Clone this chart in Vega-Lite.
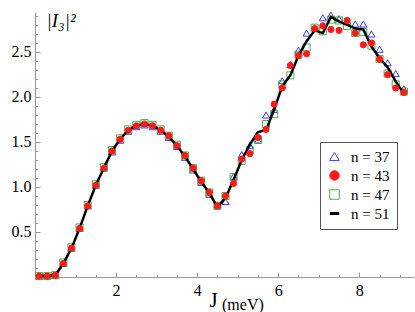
{
"$schema": "https://vega.github.io/schema/vega-lite/v6.json",
"width": 379, "height": 265,
"autosize": {"type": "none"},
"padding": {"left": 35, "top": 12, "right": 1, "bottom": 35},
"title": {"text": "(meV)", "orient": "bottom", "anchor": "start", "frame": "group", "font": "Liberation Serif", "fontSize": 16, "fontWeight": "normal", "baseline": "alphabetic", "dx": 187, "offset": 0, "color": "black"},
"config": {
  "view": {"stroke": null},
  "font": "Liberation Serif",
  "legend": {"strokeColor": "#555555", "fillColor": "white", "padding": 7, "labelFont": "Liberation Serif", "labelFontSize": 15, "labelColor": "black", "symbolSize": 90, "rowPadding": 3, "labelOffset": 9}
},
"datasets": {"d": [
{"J":0.1,"n":"n = 37","v":0.01},{"J":0.1,"n":"n = 43","v":0.01},{"J":0.1,"n":"n = 47","v":0.01},{"J":0.1,"n":"n = 51","v":0.01},
{"J":0.3,"n":"n = 37","v":0.01},{"J":0.3,"n":"n = 43","v":0.01},{"J":0.3,"n":"n = 47","v":0.01},{"J":0.3,"n":"n = 51","v":0.01},
{"J":0.5,"n":"n = 37","v":0.02},{"J":0.5,"n":"n = 43","v":0.02},{"J":0.5,"n":"n = 47","v":0.02},{"J":0.5,"n":"n = 51","v":0.02},
{"J":0.7,"n":"n = 37","v":0.15},{"J":0.7,"n":"n = 43","v":0.15},{"J":0.7,"n":"n = 47","v":0.16},{"J":0.7,"n":"n = 51","v":0.15},
{"J":0.9,"n":"n = 37","v":0.32},{"J":0.9,"n":"n = 43","v":0.32},{"J":0.9,"n":"n = 47","v":0.33},{"J":0.9,"n":"n = 51","v":0.32},
{"J":1.1,"n":"n = 37","v":0.54},{"J":1.1,"n":"n = 43","v":0.54},{"J":1.1,"n":"n = 47","v":0.55},{"J":1.1,"n":"n = 51","v":0.54},
{"J":1.3,"n":"n = 37","v":0.79},{"J":1.3,"n":"n = 43","v":0.79},{"J":1.3,"n":"n = 47","v":0.80},{"J":1.3,"n":"n = 51","v":0.79},
{"J":1.5,"n":"n = 37","v":1.02},{"J":1.5,"n":"n = 43","v":1.02},{"J":1.5,"n":"n = 47","v":1.03},{"J":1.5,"n":"n = 51","v":1.02},
{"J":1.7,"n":"n = 37","v":1.21},{"J":1.7,"n":"n = 43","v":1.21},{"J":1.7,"n":"n = 47","v":1.22},{"J":1.7,"n":"n = 51","v":1.21},
{"J":1.9,"n":"n = 37","v":1.39},{"J":1.9,"n":"n = 43","v":1.40},{"J":1.9,"n":"n = 47","v":1.41},{"J":1.9,"n":"n = 51","v":1.40},
{"J":2.1,"n":"n = 37","v":1.52},{"J":2.1,"n":"n = 43","v":1.53},{"J":2.1,"n":"n = 47","v":1.54},{"J":2.1,"n":"n = 51","v":1.53},
{"J":2.3,"n":"n = 37","v":1.62},{"J":2.3,"n":"n = 43","v":1.63},{"J":2.3,"n":"n = 47","v":1.64},{"J":2.3,"n":"n = 51","v":1.63},
{"J":2.5,"n":"n = 37","v":1.67},{"J":2.5,"n":"n = 43","v":1.68},{"J":2.5,"n":"n = 47","v":1.69},{"J":2.5,"n":"n = 51","v":1.68},
{"J":2.7,"n":"n = 37","v":1.69},{"J":2.7,"n":"n = 43","v":1.70},{"J":2.7,"n":"n = 47","v":1.71},{"J":2.7,"n":"n = 51","v":1.70},
{"J":2.9,"n":"n = 37","v":1.67},{"J":2.9,"n":"n = 43","v":1.68},{"J":2.9,"n":"n = 47","v":1.69},{"J":2.9,"n":"n = 51","v":1.68},
{"J":3.1,"n":"n = 37","v":1.62},{"J":3.1,"n":"n = 43","v":1.63},{"J":3.1,"n":"n = 47","v":1.64},{"J":3.1,"n":"n = 51","v":1.63},
{"J":3.3,"n":"n = 37","v":1.55},{"J":3.3,"n":"n = 43","v":1.57},{"J":3.3,"n":"n = 47","v":1.57},{"J":3.3,"n":"n = 51","v":1.56},
{"J":3.5,"n":"n = 37","v":1.45},{"J":3.5,"n":"n = 43","v":1.46},{"J":3.5,"n":"n = 47","v":1.47},{"J":3.5,"n":"n = 51","v":1.46},
{"J":3.7,"n":"n = 37","v":1.33},{"J":3.7,"n":"n = 43","v":1.35},{"J":3.7,"n":"n = 47","v":1.35},{"J":3.7,"n":"n = 51","v":1.34},
{"J":3.9,"n":"n = 37","v":1.19},{"J":3.9,"n":"n = 43","v":1.21},{"J":3.9,"n":"n = 47","v":1.21},{"J":3.9,"n":"n = 51","v":1.20},
{"J":4.1,"n":"n = 37","v":1.05},{"J":4.1,"n":"n = 43","v":1.07},{"J":4.1,"n":"n = 47","v":1.07},{"J":4.1,"n":"n = 51","v":1.06},
{"J":4.3,"n":"n = 37","v":0.92},{"J":4.3,"n":"n = 43","v":0.94},{"J":4.3,"n":"n = 47","v":0.94},{"J":4.3,"n":"n = 51","v":0.93},
{"J":4.5,"n":"n = 37","v":0.80},{"J":4.5,"n":"n = 43","v":0.79},{"J":4.5,"n":"n = 47","v":0.79},{"J":4.5,"n":"n = 51","v":0.78},
{"J":4.7,"n":"n = 37","v":0.84},{"J":4.7,"n":"n = 43","v":0.90},{"J":4.7,"n":"n = 47","v":0.90},{"J":4.7,"n":"n = 51","v":0.88},
{"J":4.9,"n":"n = 37","v":1.12},{"J":4.9,"n":"n = 43","v":1.04},{"J":4.9,"n":"n = 47","v":1.11},{"J":4.9,"n":"n = 51","v":1.08},
{"J":5.1,"n":"n = 37","v":1.36},{"J":5.1,"n":"n = 43","v":1.31},{"J":5.1,"n":"n = 47","v":1.29},{"J":5.1,"n":"n = 51","v":1.30},
{"J":5.3,"n":"n = 37","v":1.46},{"J":5.3,"n":"n = 43","v":1.37},{"J":5.3,"n":"n = 47","v":1.41},{"J":5.3,"n":"n = 51","v":1.47},
{"J":5.5,"n":"n = 37","v":1.52},{"J":5.5,"n":"n = 43","v":1.55},{"J":5.5,"n":"n = 47","v":1.53},{"J":5.5,"n":"n = 51","v":1.61},
{"J":5.7,"n":"n = 37","v":1.80},{"J":5.7,"n":"n = 43","v":1.64},{"J":5.7,"n":"n = 47","v":1.70},{"J":5.7,"n":"n = 51","v":1.63},
{"J":5.9,"n":"n = 37","v":1.86},{"J":5.9,"n":"n = 43","v":1.92},{"J":5.9,"n":"n = 47","v":1.81},{"J":5.9,"n":"n = 51","v":1.86},
{"J":6.1,"n":"n = 37","v":2.18},{"J":6.1,"n":"n = 43","v":2.10},{"J":6.1,"n":"n = 47","v":2.14},{"J":6.1,"n":"n = 51","v":2.12},
{"J":6.3,"n":"n = 37","v":2.36},{"J":6.3,"n":"n = 43","v":2.35},{"J":6.3,"n":"n = 47","v":2.24},{"J":6.3,"n":"n = 51","v":2.24},
{"J":6.5,"n":"n = 37","v":2.52},{"J":6.5,"n":"n = 43","v":2.46},{"J":6.5,"n":"n = 47","v":2.47},{"J":6.5,"n":"n = 51","v":2.46},
{"J":6.7,"n":"n = 37","v":2.71},{"J":6.7,"n":"n = 43","v":2.48},{"J":6.7,"n":"n = 47","v":2.55},{"J":6.7,"n":"n = 51","v":2.62},
{"J":6.9,"n":"n = 37","v":2.77},{"J":6.9,"n":"n = 43","v":2.76},{"J":6.9,"n":"n = 47","v":2.77},{"J":6.9,"n":"n = 51","v":2.74},
{"J":7.1,"n":"n = 37","v":2.88},{"J":7.1,"n":"n = 43","v":2.79},{"J":7.1,"n":"n = 47","v":2.73},{"J":7.1,"n":"n = 51","v":2.71},
{"J":7.3,"n":"n = 37","v":2.91},{"J":7.3,"n":"n = 43","v":2.75},{"J":7.3,"n":"n = 47","v":2.86},{"J":7.3,"n":"n = 51","v":2.89},
{"J":7.5,"n":"n = 37","v":2.87},{"J":7.5,"n":"n = 43","v":2.74},{"J":7.5,"n":"n = 47","v":2.85},{"J":7.5,"n":"n = 51","v":2.84},
{"J":7.7,"n":"n = 37","v":2.84},{"J":7.7,"n":"n = 43","v":2.85},{"J":7.7,"n":"n = 47","v":2.79},{"J":7.7,"n":"n = 51","v":2.80},
{"J":7.9,"n":"n = 37","v":2.81},{"J":7.9,"n":"n = 43","v":2.71},{"J":7.9,"n":"n = 47","v":2.71},{"J":7.9,"n":"n = 51","v":2.76},
{"J":8.1,"n":"n = 37","v":2.81},{"J":8.1,"n":"n = 43","v":2.58},{"J":8.1,"n":"n = 47","v":2.72},{"J":8.1,"n":"n = 51","v":2.75},
{"J":8.3,"n":"n = 37","v":2.70},{"J":8.3,"n":"n = 43","v":2.60},{"J":8.3,"n":"n = 47","v":2.57},{"J":8.3,"n":"n = 51","v":2.56},
{"J":8.5,"n":"n = 37","v":2.53},{"J":8.5,"n":"n = 43","v":2.42},{"J":8.5,"n":"n = 47","v":2.42},{"J":8.5,"n":"n = 51","v":2.43},
{"J":8.7,"n":"n = 37","v":2.38},{"J":8.7,"n":"n = 43","v":2.25},{"J":8.7,"n":"n = 47","v":2.26},{"J":8.7,"n":"n = 51","v":2.33},
{"J":8.9,"n":"n = 37","v":2.26},{"J":8.9,"n":"n = 43","v":2.10},{"J":8.9,"n":"n = 47","v":2.14},{"J":8.9,"n":"n = 51","v":2.17},
{"J":9.1,"n":"n = 37","v":2.09},{"J":9.1,"n":"n = 43","v":2.05},{"J":9.1,"n":"n = 47","v":2.06},{"J":9.1,"n":"n = 51","v":2.04}
]},
"data": {"name": "d"},
"encoding": {
  "x": {"field": "J", "type": "quantitative",
    "scale": {"domain": [0, 9.35], "nice": false, "zero": false},
    "axis": {"values": [0.5,1,1.5,2,2.5,3,3.5,4,4.5,5,5.5,6,6.5,7,7.5,8,8.5,9],
      "labelExpr": "datum.value % 2 == 0 ? format(datum.value, 'd') : ''",
      "tickSize": {"condition": {"test": "datum.value % 2 == 0", "value": -5}, "value": -2.5},
      "labelPadding": 10, "labelFlush": false, "labelOverlap": false,
      "labelFont": "Liberation Serif", "labelFontSize": 16, "labelColor": "black",
      "domainColor": "#999999", "tickColor": "#999999", "grid": false,
      "title": "J", "titleFont": "Liberation Serif", "titleFontSize": 21, "titleFontWeight": "normal", "titleColor": "black",
      "titleX": 178, "titleY": 29, "titleAlign": "center", "titleBaseline": "alphabetic"}},
  "y": {"field": "v", "type": "quantitative",
    "scale": {"domain": [0, 2.944], "nice": false, "zero": false},
    "axis": {"values": [0.1,0.2,0.3,0.4,0.5,0.6,0.7,0.8,0.9,1,1.1,1.2,1.3,1.4,1.5,1.6,1.7,1.8,1.9,2,2.1,2.2,2.3,2.4,2.5,2.6,2.7,2.8,2.9],
      "labelExpr": "abs(datum.value*2 - round(datum.value*2)) < 0.001 ? format(datum.value, '.1f') : ''",
      "tickSize": {"condition": {"test": "abs(datum.value*2 - round(datum.value*2)) < 0.001", "value": -5}, "value": -2.5},
      "labelPadding": 9, "labelFlush": false, "labelOverlap": false,
      "labelFont": "Liberation Serif", "labelFontSize": 16, "labelColor": "black",
      "domainColor": "#999999", "tickColor": "#999999", "grid": false,
      "title": "|I₃|²", "titleFont": "Liberation Serif", "titleFontSize": 19, "titleFontWeight": "normal", "titleFontStyle": "italic", "titleColor": "black",
      "titleAngle": 0, "titleX": 11, "titleY": 14, "titleAlign": "left", "titleBaseline": "alphabetic"}}
},
"layer": [
  {"transform": [{"filter": {"field": "n", "oneOf": ["n = 37", "n = 47"]}}],
   "mark": {"type": "point", "size": 50, "opacity": 1},
   "encoding": {
     "shape": {"field": "n", "type": "nominal", "scale": {"domain": ["n = 37","n = 43","n = 47","n = 51"], "range": ["triangle-up","circle","square","M-1,0H1"]}, "legend": {"title": null, "orient": "none", "legendX": 285, "legendY": 130, "labelFont": "Liberation Serif", "labelFontSize": 15}},
     "fill": {"field": "n", "type": "nominal", "scale": {"domain": ["n = 37","n = 43","n = 47","n = 51"], "range": ["transparent","#ff1a1a","transparent","transparent"]}, "legend": {"title": null, "orient": "none", "legendX": 285, "legendY": 130, "labelFont": "Liberation Serif", "labelFontSize": 15}},
     "stroke": {"field": "n", "type": "nominal", "scale": {"domain": ["n = 37","n = 43","n = 47","n = 51"], "range": ["#3b3bf2","#ff1a1a","#4fae4f","#000000"]}, "legend": {"title": null, "orient": "none", "legendX": 285, "legendY": 130, "labelFont": "Liberation Serif", "labelFontSize": 15}},
     "strokeWidth": {"field": "n", "type": "nominal", "scale": {"type": "ordinal", "domain": ["n = 37","n = 43","n = 47","n = 51"], "range": [1,1,1,3]}, "legend": {"title": null, "orient": "none", "legendX": 285, "legendY": 130, "labelFont": "Liberation Serif", "labelFontSize": 15}}
   }},
  {"transform": [{"filter": {"field": "n", "equal": "n = 51"}}],
   "mark": {"type": "line", "strokeWidth": 2.5},
   "encoding": {
     "stroke": {"field": "n", "type": "nominal", "scale": {"domain": ["n = 37","n = 43","n = 47","n = 51"], "range": ["#3b3bf2","#ff1a1a","#4fae4f","#000000"]}, "legend": {"title": null, "orient": "none", "legendX": 285, "legendY": 130, "labelFont": "Liberation Serif", "labelFontSize": 15}},
     "strokeWidth": {"field": "n", "type": "nominal", "scale": {"type": "ordinal", "domain": ["n = 37","n = 43","n = 47","n = 51"], "range": [1,1,1,3]}, "legend": {"title": null, "orient": "none", "legendX": 285, "legendY": 130, "labelFont": "Liberation Serif", "labelFontSize": 15}}
   }},
  {"transform": [{"filter": {"field": "n", "equal": "n = 43"}}],
   "mark": {"type": "point", "size": 38, "opacity": 1},
   "encoding": {
     "shape": {"field": "n", "type": "nominal", "scale": {"domain": ["n = 37","n = 43","n = 47","n = 51"], "range": ["triangle-up","circle","square","M-1,0H1"]}, "legend": {"title": null, "orient": "none", "legendX": 285, "legendY": 130, "labelFont": "Liberation Serif", "labelFontSize": 15}},
     "fill": {"field": "n", "type": "nominal", "scale": {"domain": ["n = 37","n = 43","n = 47","n = 51"], "range": ["transparent","#ff1a1a","transparent","transparent"]}, "legend": {"title": null, "orient": "none", "legendX": 285, "legendY": 130, "labelFont": "Liberation Serif", "labelFontSize": 15}},
     "stroke": {"field": "n", "type": "nominal", "scale": {"domain": ["n = 37","n = 43","n = 47","n = 51"], "range": ["#3b3bf2","#ff1a1a","#4fae4f","#000000"]}, "legend": {"title": null, "orient": "none", "legendX": 285, "legendY": 130, "labelFont": "Liberation Serif", "labelFontSize": 15}},
     "strokeWidth": {"field": "n", "type": "nominal", "scale": {"type": "ordinal", "domain": ["n = 37","n = 43","n = 47","n = 51"], "range": [1,1,1,3]}, "legend": {"title": null, "orient": "none", "legendX": 285, "legendY": 130, "labelFont": "Liberation Serif", "labelFontSize": 15}}
   }}
]
}
